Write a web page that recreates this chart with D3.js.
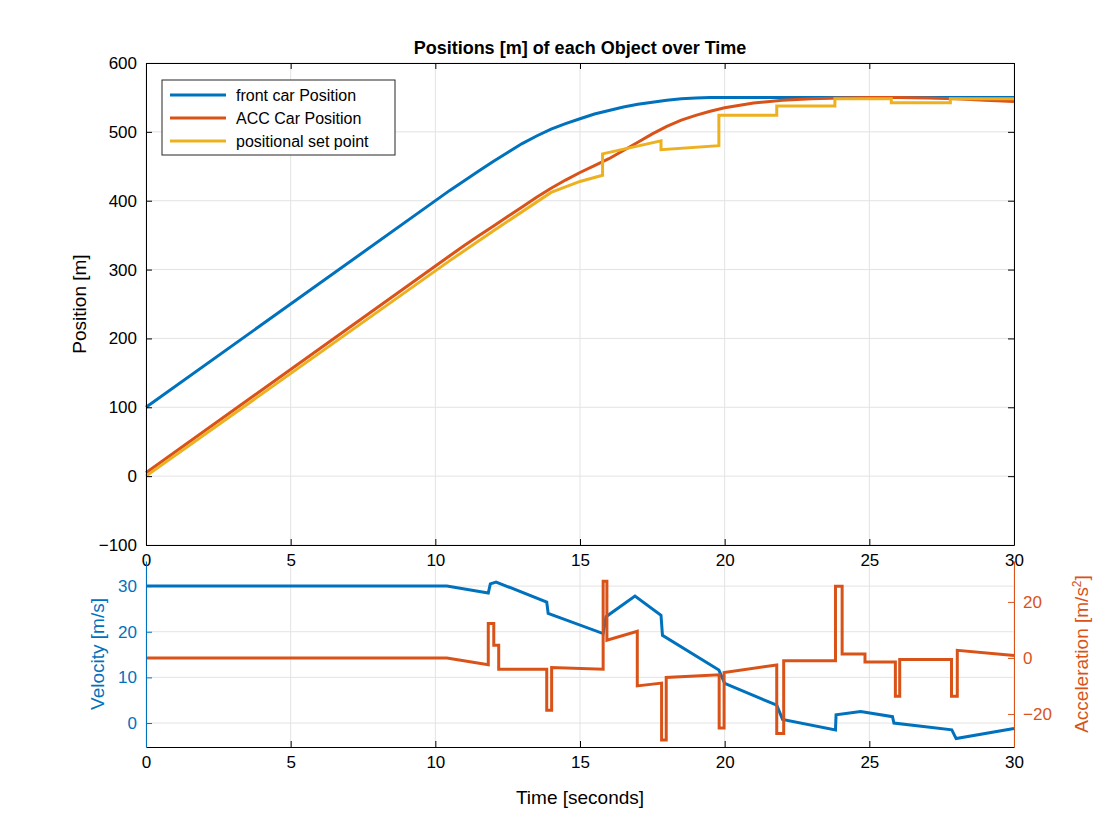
<!DOCTYPE html>
<html><head><meta charset="utf-8">
<script src="https://cdn.jsdelivr.net/npm/d3@7"></script>
<style>body{margin:0;background:#fff}text{font-family:"Liberation Sans",Arial,sans-serif}</style>
</head><body><div id="chart"></div>
<script>
// breakpoints [time, value]; repeated times mark jumps
var frontPos = [[0,100],[10.5,415],[11,429],[11.5,443],[12,457],[12.5,470],[13,483],[13.5,494],[14,504],[14.5,512],[15,519],[15.5,526],[16,531],[16.5,536],[17,540],[17.5,543],[18,546],[18.5,548],[19,549],[19.5,550],[30,550]];
var accPos = [[0,5],[10.5,320],[11,335],[11.5,349],[12,363],[12.5,377],[13,391],[13.5,405],[14,418],[14.5,430],[15,441],[15.5,451],[16,461],[16.5,473],[17,485],[17.5,497],[18,508],[18.5,517],[19,524],[19.5,530],[20,535],[21,542],[22,546],[23,548],[24,549],[25,550],[26,550],[27,549],[28,548],[29,546],[30,544]];
var setPos = [[0,0],[10.5,313],[12,356],[14,412],[15,428],[15.78,437],[15.78,468],[17.8,487],[17.8,474],[19.8,480],[19.8,524],[21.8,524],[21.8,537.5],[23.81,537.5],[23.81,548],[25.76,548],[25.76,542.4],[27.8,542.4],[27.8,548],[30,548]];
var velocity = [[0,30],[10.4,30],[11.83,28.5],[11.9,30.5],[12.1,30.9],[13.85,26.5],[13.9,24],[15.8,19.6],[15.9,23.3],[16.9,27.8],[17.8,23.6],[17.85,19.2],[19.8,11.6],[20,8.7],[21.8,3.9],[22,0.8],[23.83,-1.5],[23.85,1.8],[24.7,2.5],[25.8,1.4],[25.85,0],[27.85,-1.5],[28,-3.4],[30,-1.2]];
var accel = [[0,0],[10.4,0],[11.83,-2.4],[11.83,12.3],[12.02,12.3],[12.02,4.5],[12.19,4.5],[12.19,-4],[13.85,-4],[13.85,-18.7],[14.02,-18.7],[14.02,-3.4],[15.8,-4],[15.8,27.4],[15.93,27.4],[15.93,6.3],[16.98,9.5],[16.98,-10],[17.82,-9],[17.82,-29.3],[17.98,-29.3],[17.98,-7],[19.81,-6],[19.81,-25],[19.98,-25],[19.98,-5.2],[21.8,-2.5],[21.8,-27],[22.04,-27],[22.04,-1],[23.83,-1],[23.83,25.6],[24.06,25.6],[24.06,1.4],[24.85,1.4],[24.85,-1.5],[25.9,-1.5],[25.9,-13.7],[26.05,-13.7],[26.05,-0.6],[27.84,-0.6],[27.84,-13.7],[28.04,-13.7],[28.04,2.7],[30,0.9]];
var seriesNames = ["front car Position","ACC Car Position","positional set point"];
var xTicks = [0,5,10,15,20,25,30];
var posTicks = [-100,0,100,200,300,400,500,600];
var velTicks = [0,10,20,30];
var accTicks = [-20,0,20];

var blue="#0072BD", orange="#D95319", yellow="#EDB120";
var svg = d3.select("#chart").append("svg").attr("width",1120).attr("height",840);
var x = d3.scaleLinear().domain([0,30]).range([146,1014]);
var yPos = d3.scaleLinear().domain([-100,600]).range([545,63]);
var yVel = d3.scaleLinear().domain([-5.25,35.5]).range([747,561]);
var yAcc = d3.scaleLinear().domain([-31.8,34.6]).range([747,561]);

function grid(ys, yScale) {
  var g = svg.append("g").attr("stroke","#e3e3e3").attr("stroke-width",1);
  xTicks.forEach(function(t){ g.append("line").attr("x1",x(t)).attr("x2",x(t)).attr("y1",yScale.range()[0]).attr("y2",yScale.range()[1]); });
  ys.forEach(function(t){ g.append("line").attr("x1",146).attr("x2",1014).attr("y1",yScale(t)).attr("y2",yScale(t)); });
}
grid(posTicks, yPos);
grid(velTicks, yVel);

var line = function(ys){ return d3.line().x(function(d){return x(d[0]);}).y(function(d){return ys(d[1]);}); };
function draw(data, ys, col){
  svg.append("path").datum(data).attr("fill","none").attr("stroke",col).attr("stroke-width",3).attr("d",line(ys));
}
draw(frontPos,yPos,blue); draw(accPos,yPos,orange); draw(setPos,yPos,yellow);
draw(velocity,yVel,blue); draw(accel,yAcc,orange);

// top axes
svg.append("g").attr("transform","translate(0,545)").call(d3.axisBottom(x).tickValues(xTicks).tickSizeInner(-6).tickSizeOuter(0).tickPadding(9));
svg.append("g").attr("transform","translate(0,63)").call(d3.axisTop(x).tickValues(xTicks).tickSizeInner(-6).tickSizeOuter(0).tickFormat(""));
svg.append("g").attr("transform","translate(146,0)").call(d3.axisLeft(yPos).tickValues(posTicks).tickSizeInner(-6).tickSizeOuter(0).tickPadding(9).tickFormat(d3.format("d")));
svg.append("g").attr("transform","translate(1014,0)").call(d3.axisRight(yPos).tickValues(posTicks).tickSizeInner(-6).tickSizeOuter(0).tickFormat(""));
// bottom axes
svg.append("g").attr("transform","translate(0,747)").call(d3.axisBottom(x).tickValues(xTicks).tickSizeInner(-6).tickSizeOuter(0).tickPadding(9));
var gl = svg.append("g").attr("transform","translate(146,0)").call(d3.axisLeft(yVel).tickValues(velTicks).tickSizeInner(-6).tickSizeOuter(0).tickPadding(9));
gl.selectAll("line,path").attr("stroke",blue); gl.selectAll("text").attr("fill",blue);
var gr = svg.append("g").attr("transform","translate(1014,0)").call(d3.axisRight(yAcc).tickValues(accTicks).tickSizeInner(-6).tickSizeOuter(0).tickPadding(9).tickFormat(d3.format("d")));
gr.selectAll("line,path").attr("stroke",orange); gr.selectAll("text").attr("fill",orange);
svg.selectAll(".tick text").attr("font-size",17).attr("font-family","Liberation Sans, Arial, sans-serif");
svg.selectAll(".domain").attr("stroke-width",1);

// labels
svg.append("text").attr("x",580).attr("y",54).attr("text-anchor","middle").attr("font-size",18).attr("font-weight","bold").text("Positions [m] of each Object over Time");
svg.append("text").attr("transform","translate(86,304) rotate(-90)").attr("text-anchor","middle").attr("font-size",19).text("Position [m]");
svg.append("text").attr("transform","translate(104,654) rotate(-90)").attr("text-anchor","middle").attr("font-size",19).attr("fill",blue).text("Velocity [m/s]");
var ra = svg.append("text").attr("transform","translate(1088,654) rotate(-90)").attr("text-anchor","middle").attr("font-size",19).attr("fill",orange).text("Acceleration [m/s");
ra.append("tspan").attr("baseline-shift","super").attr("font-size",12).text("2");
ra.append("tspan").text("]");
svg.append("text").attr("x",580).attr("y",804).attr("text-anchor","middle").attr("font-size",19).text("Time [seconds]");

// legend
var lg = svg.append("g").attr("transform","translate(162,80)");
lg.append("rect").attr("width",233).attr("height",75).attr("fill","#fff").attr("stroke","#262626");
[blue,orange,yellow].forEach(function(c,i){
  lg.append("line").attr("x1",8).attr("x2",64).attr("y1",15+i*23).attr("y2",15+i*23).attr("stroke",c).attr("stroke-width",3);
  lg.append("text").attr("x",74).attr("y",21+i*23).attr("font-size",16).text(seriesNames[i]);
});
</script></body></html>
